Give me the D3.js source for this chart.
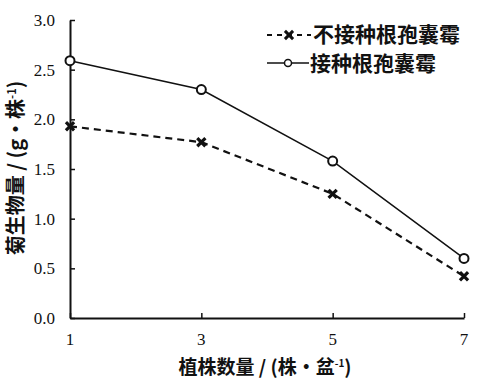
<!DOCTYPE html>
<html>
<head>
<meta charset="utf-8">
<script src="https://cdn.jsdelivr.net/npm/d3@7"></script>
<style>
  body { margin: 0; background: #fff; }
  svg text { fill: #111; }
  .num { font-family: "Liberation Serif", "DejaVu Serif", serif; font-size: 17px; }
  .cjk { font-family: "Noto Sans CJK SC", sans-serif; font-weight: bold; }
</style>
</head>
<body>
<svg id="chart" width="504" height="383"></svg>
<script>
const plantCounts = [1, 3, 5, 7]
const noInoculation = [1.93, 1.77, 1.25, 0.42]
const inoculated = [2.59, 2.30, 1.58, 0.60]
const yTicks = [0, 0.5, 1.0, 1.5, 2.0, 2.5, 3.0]
const seriesNames = ['不接种根孢囊霉', '接种根孢囊霉']

const svg = d3.select('#chart')

const x = d3.scaleLinear().domain([1, 7]).range([70, 464])
const y = d3.scaleLinear().domain([0, 3]).range([318, 20])

// axes, ticks point inward
const yAxis = svg.append('g')
  .attr('transform', 'translate(70,0)')
  .call(d3.axisRight(y).tickValues(yTicks).tickSize(5).tickSizeOuter(0).tickFormat(''))
yAxis.select('.domain').attr('stroke', '#111').attr('stroke-width', 2)
yAxis.selectAll('.tick line').attr('stroke', '#111').attr('stroke-width', 1.5)

const xAxis = svg.append('g')
  .attr('transform', 'translate(0,318)')
  .call(d3.axisTop(x).tickValues(plantCounts).tickSize(5).tickSizeOuter(0).tickFormat(''))
xAxis.select('.domain').attr('stroke', '#111').attr('stroke-width', 2)
xAxis.selectAll('.tick line').attr('stroke', '#111').attr('stroke-width', 1.5)

svg.selectAll('.ylab')
  .data(yTicks)
  .enter().append('text')
  .attr('class', 'num')
  .attr('x', 55)
  .attr('y', d => y(d) + 6)
  .attr('text-anchor', 'end')
  .text(d => d.toFixed(1))

svg.selectAll('.xlab')
  .data(plantCounts)
  .enter().append('text')
  .attr('class', 'num')
  .attr('x', d => x(d))
  .attr('y', 345)
  .attr('text-anchor', 'middle')
  .text(d => d)

// axis titles
const xt = svg.append('text')
  .attr('class', 'cjk')
  .attr('x', 265)
  .attr('y', 374)
  .attr('text-anchor', 'middle')
  .style('font-size', '19px')
xt.append('tspan').text('植株数量 / (株·盆')
xt.append('tspan').attr('dy', -7).style('font-size', '10px').text('-1')
xt.append('tspan').attr('dy', 7).text(')')

const yt = svg.append('text')
  .attr('class', 'cjk')
  .attr('transform', 'translate(23,168) rotate(-90)')
  .attr('text-anchor', 'middle')
  .style('font-size', '20px')
yt.append('tspan').text('菊生物量 / (g·株')
yt.append('tspan').attr('dy', -7).style('font-size', '11px').text('-1')
yt.append('tspan').attr('dy', 7).text(')')

const line = d3.line()
  .x((d, i) => x(plantCounts[i]))
  .y(d => y(d))

svg.append('path')
  .datum(noInoculation)
  .attr('d', line)
  .attr('fill', 'none')
  .attr('stroke', '#111')
  .attr('stroke-width', 2.2)
  .attr('stroke-dasharray', '7,5')

svg.append('path')
  .datum(inoculated)
  .attr('d', line)
  .attr('fill', 'none')
  .attr('stroke', '#111')
  .attr('stroke-width', 1.5)

const star = d3.symbol().type(d3.symbolX).size(45)

svg.selectAll('.xmark')
  .data(noInoculation)
  .enter().append('path')
  .attr('transform', (d, i) => 'translate(' + x(plantCounts[i]) + ',' + y(d) + ')')
  .attr('d', star)
  .attr('stroke', '#111')
  .attr('stroke-width', 3.2)

svg.selectAll('.omark')
  .data(inoculated)
  .enter().append('circle')
  .attr('cx', (d, i) => x(plantCounts[i]))
  .attr('cy', d => y(d))
  .attr('r', 4.5)
  .attr('fill', '#fff')
  .attr('stroke', '#111')
  .attr('stroke-width', 2)

// legend
const lg = svg.append('g')
lg.append('line')
  .attr('x1', 267).attr('x2', 311).attr('y1', 35).attr('y2', 35)
  .attr('stroke', '#111').attr('stroke-width', 2).attr('stroke-dasharray', '5,5')
lg.append('path')
  .attr('transform', 'translate(289,35)')
  .attr('d', star)
  .attr('stroke', '#111').attr('stroke-width', 3)
lg.append('text')
  .attr('class', 'cjk')
  .attr('x', 313).attr('y', 42)
  .style('font-size', '21px')
  .text(seriesNames[0])

lg.append('line')
  .attr('x1', 267).attr('x2', 309).attr('y1', 63).attr('y2', 63)
  .attr('stroke', '#111').attr('stroke-width', 1.5)
lg.append('circle')
  .attr('cx', 288).attr('cy', 63).attr('r', 3.5)
  .attr('fill', '#fff').attr('stroke', '#111').attr('stroke-width', 1.5)
lg.append('text')
  .attr('class', 'cjk')
  .attr('x', 310).attr('y', 71)
  .style('font-size', '21px')
  .text(seriesNames[1])
</script>
</body>
</html>
